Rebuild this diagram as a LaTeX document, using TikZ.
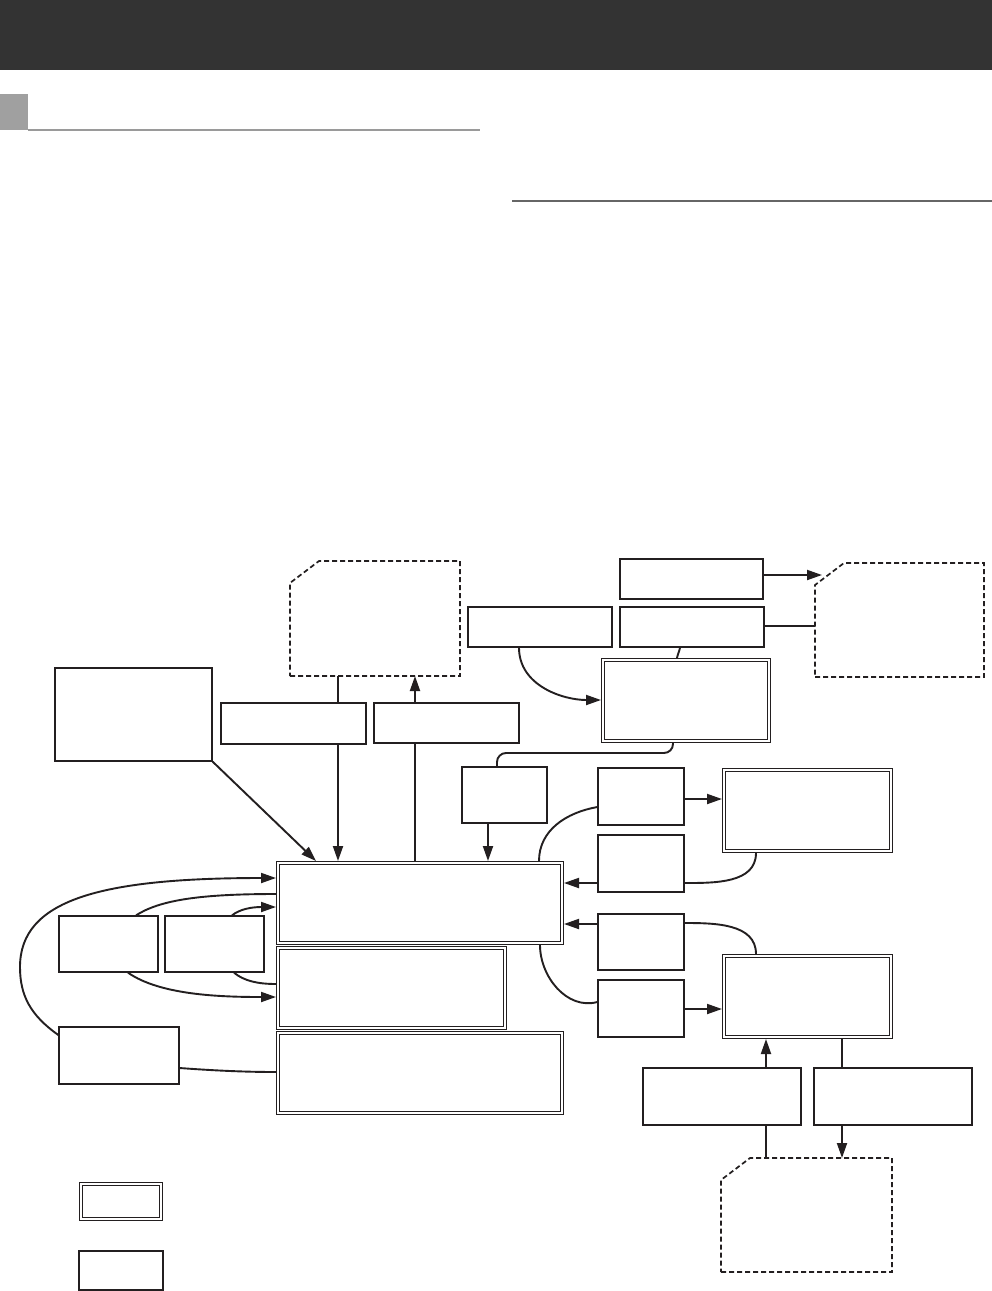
\documentclass[tikz,border=0pt]{standalone}
\usetikzlibrary{arrows.meta,calc}
\definecolor{hdr}{HTML}{333333}
\definecolor{sq}{HTML}{A0A0A0}
\definecolor{ruleA}{HTML}{9A9A9A}
\definecolor{ruleB}{HTML}{666666}
\definecolor{ink}{HTML}{231F20}
\tikzset{
  sbox/.style={draw=ink, line width=1.3pt, inner sep=0pt, outer sep=0.65pt, fill=white},
  dbox/.style={draw=ink, line width=1pt, double=white, double distance=2pt, inner sep=0pt, outer sep=2pt},
  dashbox/.style={draw=ink, line width=1.7pt, dash pattern=on 5pt off 3pt},
  conn/.style={draw=ink, line width=1.9pt},
  arr/.style={conn, -{Triangle[length=15pt,width=10pt]}},
}
\newcommand\mkbox[6]{\node[#6, minimum width={(#4)-(#2)}, minimum height={(#5)-(#3)}] (#1) at ({((#2)+(#4))/2},{-((#3)+(#5))/2}) {};}
\newcommand\mkdbox[5]{\node[dbox, minimum width={(#4)-(#2)-4}, minimum height={(#5)-(#3)-4}] (#1) at ({((#2)+(#4))/2},{-((#3)+(#5))/2}) {};}
\newcommand\mkdash[5]{\node[inner sep=0pt, outer sep=0pt, minimum width={(#4)-(#2)}, minimum height={(#5)-(#3)}] (#1) at ({((#2)+(#4))/2},{-((#3)+(#5))/2}) {};
  \draw[dashbox] (#1.south west) -- (#1.south east) -- (#1.north east) -- ($(#1.north west)+(29,0)$) -- ($(#1.north west)+(0,-22)$) -- cycle;}
\begin{document}
\begin{tikzpicture}[x=1pt,y=1pt]
\useasboundingbox (0,0) rectangle (992,-1291);
\fill[white] (0,0) rectangle (992,-1291);
% header
\fill[hdr] (0,0) rectangle (992,-70);
\fill[sq] (0,-94) rectangle (28,-130);
\draw[ruleA, line width=1.5pt] (28,-130) -- (480,-130);
\draw[ruleB, line width=1.5pt] (512,-201) -- (992,-201);

% dashed boxes
\mkdash{d1}{290}{561}{460}{676}
\mkdash{d2}{815}{563}{984}{677}
\mkdash{d3}{721}{1158}{892}{1272}

% single boxes
\mkbox{A}{221}{703}{366}{744}{sbox}
\mkbox{B}{374}{703}{519}{743}{sbox}
\mkbox{G}{55}{668}{212}{761}{sbox}
\mkbox{T}{468}{607}{612}{647}{sbox}
\mkbox{D}{620}{559}{763}{599}{sbox}
\mkbox{E}{620}{607}{764}{647}{sbox}
\mkbox{F}{462}{767}{547}{823}{sbox}
\mkbox{H}{59}{916}{158}{972}{sbox}
\mkbox{I}{165}{916}{264}{972}{sbox}
\mkbox{J}{59}{1027}{179}{1084}{sbox}
\mkbox{K1}{598}{768}{684}{825}{sbox}
\mkbox{K2}{598}{835}{684}{892}{sbox}
\mkbox{K3}{598}{914}{684}{970}{sbox}
\mkbox{K4}{598}{980}{684}{1037}{sbox}
\mkbox{Q}{643}{1068}{801}{1125}{sbox}
\mkbox{R}{814}{1068}{972}{1125}{sbox}
\mkbox{L2}{79}{1251}{163}{1290}{sbox}

% double boxes
\mkdbox{C}{601}{658}{771}{743}
\mkdbox{M1}{276}{861}{564}{945}
\mkdbox{M2}{276}{946}{507}{1030}
\mkdbox{M3}{276}{1031}{564}{1115}
\mkdbox{N}{722}{768}{893}{853}
\mkdbox{P}{722}{954}{893}{1039}
\mkdbox{L1}{79}{1182}{163}{1221}

% connectors
\draw[conn] (338,0 |- d1.south) -- (338,0 |- A.north);
\draw[arr] (338,0 |- A.south) -- (338,0 |- M1.north);
\draw[arr] (415,0 |- B.north) -- (415,0 |- d1.south);
\draw[conn] (415,0 |- M1.north) -- (415,0 |- B.south);
\draw[arr] (G.south east) -- (316,0 |- M1.north);
\draw[arr] (519,0 |- T.south) to[out=-90,in=180] (C.west |- 0,-700);
\draw[arr] (D.east |- 0,-575) -- ($(d2.west |- 0,-575)+(7,0)$);
\draw[conn] (E.east |- 0,-626) -- (d2.west |- 0,-626);
\draw[conn] (680,0 |- E.south) to[out=-100,in=80] (677,0 |- C.north);
\draw[conn, rounded corners=9pt] (673,0 |- C.south) |- (497,-753) -- (497,0 |- F.north);
\draw[arr] (488,0 |- F.south) -- (488,0 |- M1.north);
\draw[arr] (K1.east |- 0,-799) -- (N.west |- 0,-799);
\draw[conn] (756,0 |- N.south) to[out=-90,in=0] (K2.east |- 0,-883);
\draw[arr] (K2.west |- 0,-883) -- (M1.east |- 0,-883);
\draw[conn] (756,0 |- P.north) to[out=90,in=0] (K3.east |- 0,-923);
\draw[arr] (K3.west |- 0,-924) -- (M1.east |- 0,-924);
\draw[conn] (K1.west |- 0,-807) to[out=190,in=90] (539,0 |- M1.north);
\draw[conn] (540,0 |- M1.south) to[out=-90,in=195] (K4.west |- 0,-1002);
\draw[arr] (K4.east |- 0,-1009) -- (P.west |- 0,-1009);
\draw[arr] (766,0 |- Q.north) -- (766,0 |- P.south);
\draw[conn] (842,0 |- P.south) -- (842,0 |- R.north);
\draw[arr] (842,0 |- R.south) -- (842,0 |- d3.north);
\draw[conn] (766,0 |- Q.south) -- (766,0 |- d3.north);
\draw[arr] (J.west |- 0,-1035) .. controls (30,-1015) and (20,-995) .. (20,-967) .. controls (20,-900) and (100,-878) .. (M1.west |- 0,-878);
\draw[conn] (M1.west |- 0,-894) .. controls (200,-894) and (160,-900) .. (136,0 |- H.north);
\draw[arr] (232,0 |- I.north) .. controls (240,-909) and (252,-907) .. (M1.west |- 0,-907);
\draw[arr] (128,0 |- H.south) .. controls (160,-995) and (220,-997) .. (M2.west |- 0,-997);
\draw[conn] (234,0 |- I.south) .. controls (244,-981) and (258,-984) .. (M2.west |- 0,-984);
\draw[conn] (J.east |- 0,-1068) .. controls (220,-1071) and (250,-1072) .. (M3.west |- 0,-1072);
\end{tikzpicture}
\end{document}
